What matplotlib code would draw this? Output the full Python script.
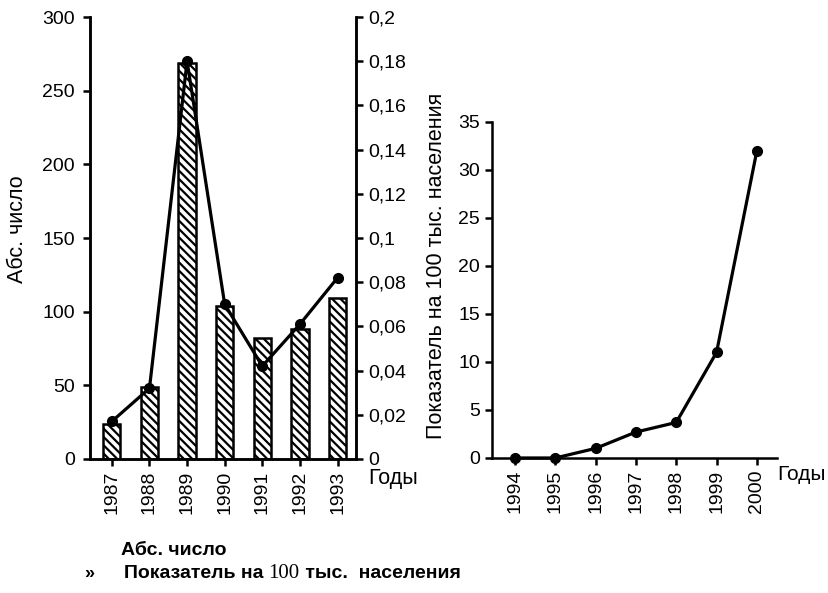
import matplotlib
matplotlib.use("Agg")
import matplotlib.pyplot as plt

# данные
years_a = ["1987", "1988", "1989", "1990", "1991", "1992", "1993"]
abs_count = [24, 49, 269, 104, 82, 88, 109]
rate_a = [0.017, 0.032, 0.18, 0.07, 0.042, 0.061, 0.082]
rate_ticks = [0, 0.02, 0.04, 0.06, 0.08, 0.1, 0.12, 0.14, 0.16, 0.18, 0.2]

years_b = ["1994", "1995", "1996", "1997", "1998", "1999", "2000"]
rate_b = [0, 0, 1.0, 2.7, 3.7, 11, 32]

plt.rcParams['font.family'] = ['Liberation Sans', 'DejaVu Sans']
plt.rcParams['font.size'] = 14
plt.rcParams['hatch.linewidth'] = 1.6
plt.rcParams['axes.linewidth'] = 1.8

fig = plt.figure(figsize=(8.29, 5.93), dpi=100)

# левый график
ax1 = fig.add_axes([0.1086, 0.2260, 0.3208, 0.7453])
xa = list(range(len(years_a)))
ax1.bar(xa, abs_count, width=0.46, color='white', edgecolor='black',
        linewidth=1.8, hatch='\\\\\\\\', zorder=2)
ax1.set_xlim(-0.58, 6.49)
ax1.set_ylim(0, 300)
ax1.set_yticks([0, 50, 100, 150, 200, 250, 300])
ax1.set_xticks(xa)
ax1.set_xticklabels(years_a, rotation=90)
ax1.set_ylabel("Абс. число", fontsize=15.5)
ax1.yaxis.set_label_coords(-0.235, 0.52)
ax1.spines['top'].set_visible(False)
ax1.tick_params(length=5, width=1.8)
ax1.tick_params(axis='y', pad=6)

ax2 = ax1.twinx()
ax2.plot(xa, rate_a, color='black', linewidth=2.3, marker='o', markersize=7, zorder=3)
ax2.set_ylim(0, 0.2)
ax2.set_yticks(rate_ticks)
ax2.set_yticklabels([("%g" % v).replace('.', ',') for v in rate_ticks])
ax2.spines['top'].set_visible(False)
ax2.tick_params(length=5, width=1.8)
ax1.text(1.045, -0.02, "Годы", transform=ax1.transAxes, va='top', ha='left', fontsize=15.5)

# правый график
ax3 = fig.add_axes([0.5935, 0.2277, 0.3438, 0.5666])
xb = list(range(len(years_b)))
ax3.plot(xb, rate_b, color='black', linewidth=2.3, marker='o', markersize=7, clip_on=False)
ax3.set_xlim(-0.57, 6.5)
ax3.set_ylim(0, 35)
ax3.set_yticks([0, 5, 10, 15, 20, 25, 30, 35])
ax3.set_xticks(xb)
ax3.set_xticklabels(years_b, rotation=90)
ax3.spines['top'].set_visible(False)
ax3.spines['right'].set_visible(False)
ax3.tick_params(length=5, width=1.8)
ax3.text(1.0, -0.02, "Годы", transform=ax3.transAxes, va='top', ha='left', fontsize=15)

fig.text(0.527, 0.551, "Показатель на 100 тыс. населения", rotation=90,
         ha='center', va='center', fontsize=15.5)

# легенда
fig.text(0.146, 0.071, "Абс. число", fontweight='bold', fontsize=14, va='center')
fig.text(0.101, 0.033, "»", fontweight='bold', fontsize=13, va='center')
t1 = fig.text(0.149, 0.033, "Показатель на ", fontweight='bold', fontsize=14, va='center')
fig.canvas.draw()
r = fig.canvas.get_renderer()
bb = t1.get_window_extent(r)
t2 = fig.text(bb.x1 / fig.bbox.width, 0.033, "100", family='Liberation Serif',
              fontsize=15, va='center')
bb2 = t2.get_window_extent(r)
fig.text(bb2.x1 / fig.bbox.width, 0.033, " тыс.  населения", fontweight='bold',
         fontsize=14, va='center')

plt.savefig("out.png", dpi=100)
